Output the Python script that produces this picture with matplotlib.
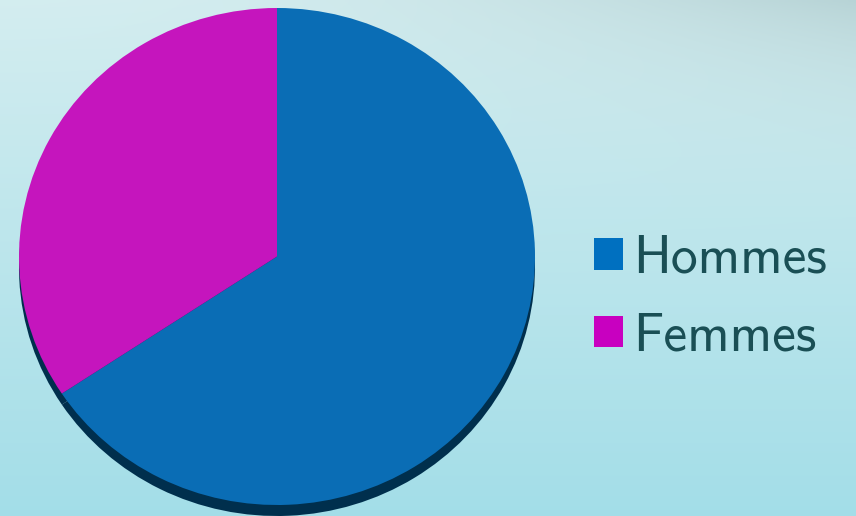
import numpy as np
import matplotlib
matplotlib.use("Agg")
import matplotlib.pyplot as plt
from matplotlib.patches import Patch

labels = ["Hommes", "Femmes"]
shares = [65.7, 34.3]
slice_colors = ["#0a6db5", "#c515bd"]
legend_colors = ["#0070c0", "#c800c0"]
shadow_color = "#002f4d"
text_color = "#1a4f55"

W, H = 856, 516
fig = plt.figure(figsize=(W / 100, H / 100), dpi=100)

# background gradient
bg = fig.add_axes([0, 0, 1, 1])
yy, xx = np.mgrid[0:1:200j, 0:1:300j]
top = np.array([0.83, 0.93, 0.94])
bottom = np.array([0.64, 0.87, 0.91])
right_tint = np.array([0.72, 0.83, 0.84])
img = top[None, None, :] * (1 - yy[..., None]) + bottom[None, None, :] * yy[..., None]
w = (xx * (1 - yy) ** 3)[..., None] ** 2
img = img * (1 - w) + right_tint * w
bg.imshow(np.clip(img, 0, 1), extent=[0, 1, 0, 1], aspect="auto", origin="upper")
bg.axis("off")

# pie axes: unit circle mapped onto an ellipse (tilted look)
cx, cy = 277, H - 256.5
rx, ry = 258, 248.5
ax = fig.add_axes([0, 0, 1, 1])
ax.patch.set_alpha(0)
ax.pie(shares, colors=[shadow_color] * len(shares), startangle=90,
       counterclock=False, center=(0, -11 / ry), radius=1,
       wedgeprops=dict(linewidth=0))
wedges, _ = ax.pie(shares, colors=slice_colors, startangle=90,
                   counterclock=False, radius=1,
                   wedgeprops=dict(linewidth=0))
ax.set_aspect("auto")
ax.set_xlim(-cx / rx, (W - cx) / rx)
ax.set_ylim(-cy / ry, (H - cy) / ry)
ax.axis("off")

handles = [Patch(facecolor=c, edgecolor="none") for c in legend_colors]
fig.legend(handles, labels, loc="center left",
           bbox_to_anchor=(594 / W, 1 - 298 / H), frameon=False,
           prop=dict(family="cmss10", size=38.5), labelcolor=text_color,
           handlelength=0.54, handleheight=0.54, handletextpad=0.2,
           labelspacing=0.54, borderpad=0, borderaxespad=0)

fig.savefig("out.png", dpi=100)
